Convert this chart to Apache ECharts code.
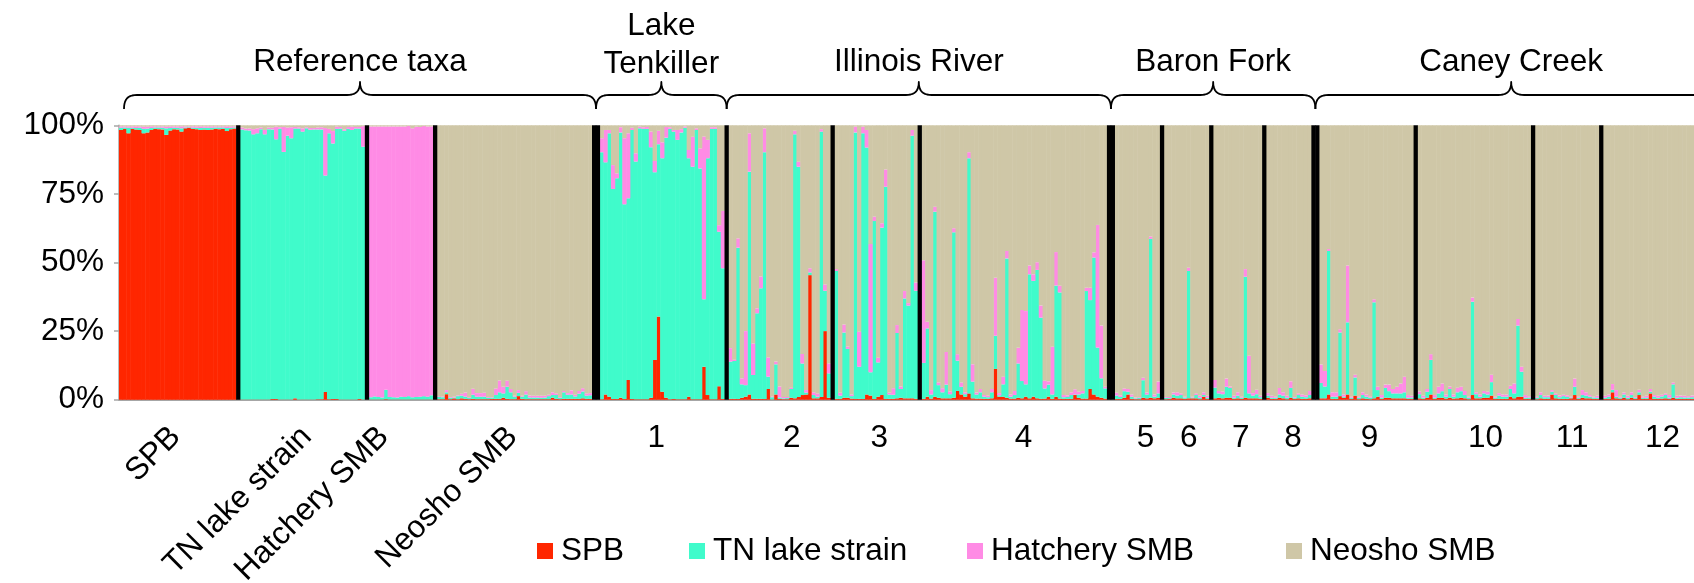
<!DOCTYPE html>
<html>
<head>
<meta charset="utf-8">
<title>Admixture proportions</title>
<script src="https://cdn.jsdelivr.net/npm/echarts@6/dist/echarts.min.js"></script>
<style>
  html, body { margin: 0; padding: 0; background: #fff; }
  #chart { width: 1694px; height: 583px; }
</style>
</head>
<body>
<div id="chart"></div>
<script>
// Cluster membership (%) of each individual: [SPB, TN lake strain, Hatchery SMB].
// The Neosho SMB share is the remainder up to 100 %.
const seriesNames = ['SPB', 'TN lake strain', 'Hatchery SMB', 'Neosho SMB'];

const refSpb = [[98.3,0.8,0.5],[98.7,0.5,0.4],[97.1,2.0,0.5],[98.7,0.4,0.5],[98.5,0.5,0.6],[98.3,0.8,0.5],[97.1,1.6,0.8],[97.4,1.4,0.7],[98.3,0.7,0.6],[98.7,0.5,0.4],[98.6,0.6,0.4],[98.5,0.6,0.5],[96.5,2.4,0.6],[98.1,0.9,0.6],[98.6,0.5,0.5],[98.5,0.6,0.5],[97.7,1.2,0.7],[98.9,0.3,0.4],[99.1,0.2,0.3],[98.7,0.4,0.5],[98.6,0.5,0.5],[98.3,0.7,0.6],[98.5,0.6,0.5],[98.3,0.8,0.5],[98.5,0.6,0.5],[98.7,0.5,0.4],[98.6,0.6,0.4],[98.7,0.5,0.4],[97.9,1.1,0.6],[98.6,0.5,0.5],[98.8,0.4,0.4]];

const refTnLake = [[0.1,98.4,0.7],[0.1,98.1,0.6],[0.1,98.0,0.8],[0.1,96.6,1.9],[0.1,97.0,1.8],[0.1,98.5,0.6],[0.1,96.6,1.6],[0.1,98.5,0.6],[0.3,98.2,0.6],[0.3,94.6,4.6],[0.1,98.6,0.6],[0.1,90.2,9.1],[0.1,96.1,3.0],[0.1,95.2,4.0],[0.5,98.3,0.6],[0.1,98.7,0.5],[0.1,97.6,1.2],[0.1,98.8,0.4],[0.1,98.3,0.6],[0.1,98.4,0.5],[0.2,98.3,0.7],[0.2,98.3,0.8],[2.8,78.9,17.3],[0.2,96.9,1.6],[0.3,93.1,4.5],[0.3,98.4,0.8],[0.1,98.7,0.6],[0.1,97.9,0.5],[0.1,98.6,0.7],[0.1,98.2,1.2],[0.1,98.7,0.6],[0.3,98.5,0.6],[0.1,92.1,7.5]];

const refHatchery = [[0.1,0.8,98.7],[0.1,1.1,98.4],[0.1,0.9,98.6],[0.1,0.7,98.8],[0.2,3.4,96.0],[0.1,0.9,98.6],[0.1,0.8,98.7],[0.1,0.7,98.8],[0.1,1.0,98.5],[0.1,0.9,98.6],[0.1,1.2,98.4],[0.1,0.8,98.0],[0.1,0.9,98.5],[0.1,1.0,98.3],[0.1,1.2,98.4],[0.1,1.0,98.5],[0.1,1.5,98.0]];

const refNeosho = [[0.2,0.8,0.3],[0.2,0.7,0.3],[2.0,0.7,0.8],[0.2,0.5,0.3],[0.5,0.3,0.3],[0.2,1.1,0.3],[0.5,1.0,0.7],[0.3,0.8,1.5],[0.2,0.4,0.3],[0.3,1.5,2.2],[0.2,0.9,1.3],[0.2,0.9,1.3],[0.2,0.9,1.4],[0.2,0.5,0.3],[0.3,0.5,0.2],[0.3,1.4,2.4],[0.3,2.4,4.3],[0.7,1.6,2.4],[0.3,4.4,2.2],[0.2,2.5,1.2],[0.2,0.9,0.3],[1.3,1.2,1.0],[0.3,0.8,0.3],[0.2,1.7,1.2],[0.2,0.6,0.7],[0.2,0.6,0.6],[0.2,0.6,0.6],[0.2,0.5,0.7],[0.2,0.6,0.6],[0.2,1.1,0.5],[0.7,1.0,1.0],[0.3,1.4,0.6],[0.2,0.5,0.3],[0.3,2.4,0.5],[0.3,1.5,0.6],[0.3,1.6,1.5],[0.3,0.9,0.6],[0.3,1.9,1.0],[0.5,2.5,1.2],[0.3,1.2,0.8],[0.3,1.3,0.8]];

const site1 = [[0.2,90.0,5.1],[1.9,84.6,11.8],[1.1,96.0,1.2],[0.3,76.5,8.7],[0.3,80.4,1.8],[0.7,96.7,1.9],[0.3,70.9,24.1],[7.2,66.2,23.7],[0.3,98.0,0.8],[0.2,86.6,3.0],[0.2,98.7,0.6],[0.2,98.5,0.6],[0.2,98.5,0.7],[0.7,91.3,5.7],[14.5,68.4,4.1],[30.3,62.8,4.9],[2.9,85.1,5.8],[0.7,94.8,3.9],[0.2,98.5,0.6],[0.3,97.4,0.6],[0.2,94.5,3.6],[0.2,97.2,1.2],[0.2,98.9,0.5],[1.1,86.9,3.0],[0.2,84.7,10.9],[0.2,98.1,0.6],[0.2,84.1,7.3],[12.0,24.6,59.3],[1.7,86.3,6.7],[0.2,98.5,0.6],[0.2,98.5,0.6],[4.9,56.3,2.4],[0.3,47.6,20.9]];

const site2 = [[0.3,13.6,4.9],[0.3,13.8,0.5],[0.3,55.1,3.4],[0.7,4.9,2.2],[1.1,4.2,19.7],[1.9,81.2,14.0],[0.3,8.7,11.5],[0.3,31.2,1.8],[0.3,40.3,4.3],[0.3,89.9,8.7],[3.9,4.5,7.0],[0.1,0.8,0.3],[1.9,11.0,1.0],[0.3,0.5,4.0],[0.2,0.3,0.5],[0.2,0.4,0.4],[0.7,3.2,0.5],[0.5,96.2,1.3],[1.0,83.9,1.8],[1.7,11.5,3.5],[1.9,0.7,0.9],[45.4,1.0,1.5],[0.5,1.2,1.0],[0.5,0.6,1.2],[1.0,96.7,0.9],[25.0,14.7,2.3],[0.7,8.9,3.6]];

const site3 = [[0.3,46.6,0.7],[0.3,1.2,1.0],[0.7,23.8,2.9],[0.7,17.8,0.9],[0.4,0.9,0.6],[0.3,97.1,2.1],[0.3,11.7,12.8],[0.3,96.8,2.4],[1.9,90.0,6.4],[1.5,8.5,46.7],[0.3,64.8,1.6],[1.1,12.5,1.7],[1.7,61.0,1.6],[0.3,77.3,6.3],[0.3,1.6,0.6],[0.3,1.5,2.4],[0.5,23.8,2.9],[0.7,3.2,0.9],[0.5,36.4,2.7],[0.5,33.8,0.9],[0.5,95.7,2.1],[0.3,39.4,3.0]];

const site4 = [[0.3,13.1,37.4],[1.1,24.9,2.4],[0.4,1.5,1.6],[1.1,67.4,1.8],[0.7,4.6,1.0],[0.5,2.2,1.5],[0.5,5.0,11.9],[0.5,1.5,1.0],[0.7,60.3,1.5],[3.2,11.0,2.4],[1.9,2.8,1.6],[1.1,0.9,0.7],[2.3,85.7,2.2],[0.5,6.1,6.3],[0.4,1.5,0.7],[0.4,2.3,1.2],[0.3,0.8,0.6],[0.3,0.6,0.5],[0.5,2.2,1.2],[11.2,12.1,21.1],[1.1,0.5,0.8],[1.1,4.5,2.8],[0.7,50.8,2.7],[0.4,0.7,0.8],[0.4,1.3,1.5],[0.7,12.5,5.7],[0.5,6.3,25.9],[1.1,4.5,26.7],[0.5,45.2,3.2],[1.1,42.2,2.4],[0.5,46.8,2.8],[0.3,29.6,4.4],[0.4,3.7,2.8],[1.1,4.4,1.2],[0.3,1.6,17.4],[1.1,40.5,12.2],[0.4,38.7,2.4],[0.3,0.6,0.8],[0.3,0.7,0.6],[0.3,1.4,1.0],[1.7,0.2,1.9],[0.7,1.2,1.0],[0.4,1.9,0.9],[0.4,39.2,1.2],[3.9,32.4,4.5],[1.9,49.9,1.9],[1.1,17.9,44.7],[0.7,7.1,19.2],[0.4,3.7,0.6]];

const site5 = [[0.3,1.2,1.0],[0.3,0.7,0.6],[0.7,2.4,1.0],[1.9,1.0,1.0],[0.3,0.8,0.8],[0.2,0.3,0.3],[0.2,0.4,0.3],[0.7,6.4,0.9],[0.5,1.4,0.7],[0.7,57.9,0.9],[0.5,0.6,0.8],[0.7,1.6,4.3]];

const site6 = [[0.2,0.5,0.3],[0.3,0.3,0.4],[0.7,1.2,0.7],[0.5,1.0,1.2],[0.5,1.2,0.6],[0.3,0.5,0.3],[0.5,46.4,1.2],[0.5,0.3,0.3],[0.5,1.2,0.6],[0.2,0.5,0.7],[1.1,0.6,1.0],[0.3,0.4,0.7]];

const site7 = [[0.5,3.9,2.8],[0.7,1.6,0.9],[0.5,1.5,1.0],[0.7,4.0,3.0],[0.7,3.6,0.5],[0.3,0.4,0.7],[0.5,1.0,1.2],[0.3,0.4,0.4],[0.7,44.1,2.8],[0.5,1.8,13.7],[0.5,1.0,0.9],[0.5,1.5,1.6],[0.3,0.6,0.5]];

const site8 = [[0.7,0.8,0.9],[0.3,0.4,0.7],[0.3,0.4,0.4],[0.7,1.2,2.4],[0.5,1.0,1.2],[0.2,0.5,0.7],[0.7,3.6,2.4],[0.3,0.4,0.3],[0.5,1.2,0.6],[0.3,0.8,0.8],[0.3,0.6,0.7],[0.5,1.2,1.5]];

const site9 = [[0.5,5.6,6.7],[0.5,4.3,5.7],[1.9,52.3,0.7],[0.3,0.8,1.6],[0.3,0.8,1.6],[1.3,23.2,1.2],[0.7,0.4,0.8],[1.9,26.3,20.7],[0.3,0.4,0.4],[1.5,6.6,1.0],[0.2,0.5,0.4],[0.5,1.2,1.0],[0.3,0.8,0.8],[0.2,0.5,0.4],[0.5,35.0,1.1],[1.1,2.4,1.2],[0.3,0.4,1.0],[0.7,3.6,1.2],[0.7,2.4,2.4],[0.5,1.8,1.6],[0.5,1.8,2.4],[0.5,1.8,3.6],[0.5,2.2,5.7],[0.3,0.4,1.0],[0.3,0.5,0.6]];

const site10 = [[0.5,1.5,1.0],[0.3,0.4,0.7],[0.7,2.2,1.0],[1.9,12.6,2.1],[0.3,0.4,1.0],[0.7,1.6,2.4],[0.7,2.4,2.8],[0.4,0.7,0.8],[0.7,3.2,0.9],[0.4,0.7,0.8],[0.5,2.2,1.7],[0.7,2.4,1.6],[0.5,1.2,1.5],[0.2,0.5,0.4],[1.7,34.0,1.5],[0.5,1.5,0.7],[0.5,0.6,0.8],[0.7,1.6,0.9],[0.7,1.2,1.0],[1.5,4.9,2.7],[0.3,0.4,0.4],[0.3,1.2,0.9],[0.3,0.8,0.8],[0.3,0.8,0.8],[1.1,2.8,1.2],[0.5,1.8,3.6],[1.1,25.9,2.4],[1.1,9.1,1.8],[0.3,0.4,1.0],[0.3,0.5,0.5]];

const site11 = [[0.2,0.5,0.4],[0.5,1.2,1.0],[0.3,0.6,0.5],[0.3,0.6,0.6],[1.9,1.0,0.6],[0.5,1.2,0.6],[0.3,0.6,0.6],[0.3,1.0,0.5],[0.3,0.7,0.6],[0.5,0.3,0.3],[1.7,3.0,3.0],[0.3,0.4,0.4],[0.7,1.0,1.8],[0.5,1.0,1.2],[0.5,0.6,0.6],[0.3,0.5,0.3],[0.3,0.4,0.7]];

const site12 = [[0.3,0.4,0.7],[0.3,0.8,0.8],[2.7,0.9,2.1],[0.5,0.6,2.4],[0.3,0.4,0.4],[0.7,1.2,0.7],[0.2,0.5,0.7],[0.7,1.0,1.0],[0.3,0.4,0.3],[1.7,1.0,0.9],[0.3,0.4,0.4],[0.3,0.4,0.7],[2.3,0.6,1.0],[0.3,0.8,0.6],[0.3,0.4,0.7],[0.4,0.8,0.6],[0.5,1.2,0.6],[0.3,0.4,1.0],[0.7,4.9,0.7],[0.3,0.4,0.7],[0.3,0.6,0.6],[0.3,0.5,0.6],[0.3,0.5,0.5],[0.3,0.6,0.6]];

// Group labels under the axis
const refLabels = ['SPB', 'TN lake strain', 'Hatchery SMB', 'Neosho SMB'];
const siteLabels = ['1','2','3','4','5','6','7','8','9','10','11','12'];
const yTicks = [0, 25, 50, 75, 100];

// Drainage brackets: name and the groups (index into `groups`) they cover
const regions = [
  { name: 'Reference taxa', from: 0, to: 3 },
  { name: 'Lake\nTenkiller', from: 4, to: 4 },
  { name: 'Illinois River', from: 5, to: 7 },
  { name: 'Baron Fork', from: 8, to: 11 },
  { name: 'Caney Creek', from: 12, to: 15 }
];

const groups = [refSpb, refTnLake, refHatchery, refNeosho, site1, site2, site3, site4,
                site5, site6, site7, site8, site9, site10, site11, site12];
// Width (in bar slots) of the black divider after each group
const dividerSlots = [1,1,1,2, 1, 1,1,2, 1,1,1,2, 1,1,1];

const colors = ['#FF2600', '#40FBCB', '#FF8BE5', '#CFC7A7'];
const FONT = '"Liberation Sans", Arial, Helvetica, sans-serif';
const FS = 31.5;

// ---- build the stacked columns ----
const cats = [], sSpb = [], sTn = [], sHat = [], sNeo = [], sDiv = [];
const groupSpan = [], dividerSpan = [];
groups.forEach((g, gi) => {
  const start = cats.length;
  g.forEach(([a, b, c]) => {
    cats.push(String(cats.length));
    sSpb.push(a); sTn.push(b); sHat.push(c);
    sNeo.push(+(100 - a - b - c).toFixed(1));
    sDiv.push('-');
  });
  groupSpan.push([start, cats.length - 1]);
  if (gi < dividerSlots.length) {
    const ds = cats.length;
    for (let k = 0; k < dividerSlots[gi]; k++) {
      cats.push(String(cats.length));
      sSpb.push('-'); sTn.push('-'); sHat.push('-'); sNeo.push('-');
      sDiv.push(100);
    }
    dividerSpan.push([ds, cats.length - 1]);
  }
});

const slot = 3.8;                       // px per individual
const gridLeft = 119, gridTop = 125.3, gridHeight = 274.4;

function barSeries(name, data, color, width) {
  return {
    name, type: 'bar', stack: 'q', data,
    barWidth: width,
    itemStyle: { color },
    emphasis: { disabled: true },
    animation: false
  };
}

const chart = echarts.init(document.getElementById('chart'), null, { renderer: 'canvas' });

const option = {
  backgroundColor: '#fff',
  animation: false,
  textStyle: { fontFamily: FONT },
  grid: { left: gridLeft, top: gridTop, height: gridHeight, width: slot * cats.length, containLabel: false },
  xAxis: {
    type: 'category', data: cats,
    axisLine: { show: true, lineStyle: { color: '#A6A6A6', width: 2 } },
    axisTick: { show: false }, axisLabel: { show: false }, splitLine: { show: false }
  },
  yAxis: {
    type: 'value', min: yTicks[0], max: yTicks[yTicks.length - 1], interval: 25,
    axisLine: { show: true, lineStyle: { color: '#A6A6A6', width: 1.5 } },
    axisTick: { show: true, length: 5, lineStyle: { color: '#A6A6A6', width: 1.5 } },
    splitLine: { show: false },
    axisLabel: { formatter: '{value}%', fontSize: FS, color: '#000', margin: 15, fontFamily: FONT }
  },
  legend: seriesNames.map((n, i) => ({
    data: [n], left: [537, 689, 967, 1286][i], top: 535, padding: 0,
    icon: 'rect', itemWidth: 16, itemHeight: 16, selectedMode: false,
    textStyle: { fontSize: FS, color: '#000', fontFamily: FONT, padding: [0, 0, 0, 3] }
  })),
  series: [
    barSeries(seriesNames[0], sSpb, colors[0], slot + 0.5),
    barSeries(seriesNames[1], sTn, colors[1], slot + 0.5),
    barSeries(seriesNames[2], sHat, colors[2], slot + 0.5),
    barSeries(seriesNames[3], sNeo, colors[3], slot + 0.5),
    barSeries('divider', sDiv, '#000', slot + 0.5)
  ]
};
chart.setOption(option);

// ---- annotations placed from the category axis ----
const px = i => chart.convertToPixel({ xAxisIndex: 0 }, i);
const bw = px(1) - px(0);
const mid = ([a, b]) => (px(a) + px(b)) / 2;
const font = FS + 'px ' + FONT;
const graphics = [];

// small hand offsets of the label boxes relative to the block centres
const refLabelShift = [0, 6, -15, 0];
const siteLabelShift = [-6, 12, 3, 9, 8, 2, 3, 4, 3, 11, 5, 14];
// the last bracket runs on past the right edge of the plot
const lastBraceOverrun = 13;

// reference taxa names, rotated under their blocks
refLabels.forEach((t, i) => {
  graphics.push({
    type: 'text', x: mid(groupSpan[i]) - 2 + refLabelShift[i], y: 432,
    rotation: Math.PI / 4, silent: true,
    style: { text: t, font, fill: '#000', align: 'right', verticalAlign: 'middle' }
  });
});
// sampling-site numbers
siteLabels.forEach((t, i) => {
  graphics.push({
    type: 'text', x: mid(groupSpan[i + 4]) + siteLabelShift[i], y: 438, silent: true,
    style: { text: t, font, fill: '#000', align: 'center', verticalAlign: 'middle' }
  });
});

// curly bracket sampled from cubic segments
function cubic(p0, p1, p2, p3, n) {
  const out = [];
  for (let k = 1; k <= n; k++) {
    const t = k / n, u = 1 - t;
    out.push([
      u*u*u*p0[0] + 3*u*u*t*p1[0] + 3*u*t*t*p2[0] + t*t*t*p3[0],
      u*u*u*p0[1] + 3*u*u*t*p1[1] + 3*u*t*t*p2[1] + t*t*t*p3[1]
    ]);
  }
  return out;
}
function bracePoints(x1, x2, xm) {
  const yT = 109, yB = 95, yP = 82, r = 13;
  let pts = [[x1, yT]];
  pts = pts.concat(cubic([x1, yT], [x1, yB + 4], [x1 + 4, yB], [x1 + r, yB], 10));
  pts.push([xm - r, yB]);
  pts = pts.concat(cubic([xm - r, yB], [xm - 4, yB], [xm, yB - 4], [xm, yP], 10));
  pts = pts.concat(cubic([xm, yP], [xm, yB - 4], [xm + 4, yB], [xm + r, yB], 10));
  pts.push([x2 - r, yB]);
  pts = pts.concat(cubic([x2 - r, yB], [x2 - 4, yB], [x2, yB + 4], [x2, yT], 10));
  return pts;
}
regions.forEach((r) => {
  const x1 = r.from === 0 ? px(0) - bw / 2 + 5 : mid(dividerSpan[r.from - 1]);
  const x2 = r.to === groups.length - 1
    ? px(cats.length - 1) + bw / 2 + lastBraceOverrun
    : mid(dividerSpan[r.to]);
  const xm = (x1 + x2) / 2;
  const twoLines = r.name.indexOf('\n') >= 0;
  graphics.push({
    type: 'polyline', silent: true,
    shape: { points: bracePoints(x1, x2, xm) },
    style: { stroke: '#000', lineWidth: 1.8, fill: null, lineJoin: 'round' }
  });
  graphics.push({
    type: 'text', x: xm, y: twoLines ? 45 : 62, silent: true,
    style: { text: r.name, font, fill: '#000', align: 'center', verticalAlign: 'middle', lineHeight: 38 }
  });
});
chart.setOption({ graphic: { elements: graphics } });
</script>
</body>
</html>
